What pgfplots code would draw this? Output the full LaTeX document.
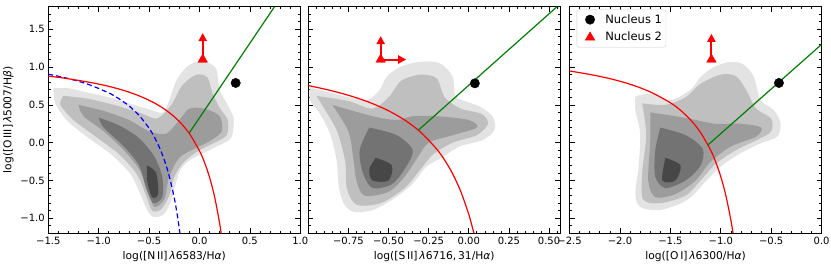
\documentclass[border=0pt]{standalone}
\usepackage{pgfplots}
\pgfplotsset{compat=1.18}
\usepackage{fontspec}
\setmainfont{DejaVu Sans}
\usetikzlibrary{arrows.meta}
\definecolor{mgreen}{RGB}{0,128,0}
\pgfplotsset{
  bpt/.style={
    scale only axis, width=252pt, height=226.8pt,
    ymin=-1.2, ymax=1.8,
    ytick={-1,-0.5,0,0.5,1,1.5},
    minor ytick={-1.2,-1.1,...,1.85},
    tick align=inside,
    major tick length=5pt, minor tick length=2.5pt,
    tick style={black, line width=0.7pt},
    axis line style={line width=0.8pt},
    ticklabel style={font=\fontsize{10}{12}\selectfont},
    label style={font=\fontsize{10.7}{13}\selectfont},
  },
  c1/.style={fill=black!11, draw=none, forget plot, smooth},
  c2/.style={fill=black!25, draw=none, forget plot, smooth},
  c3/.style={fill=black!39, draw=none, forget plot, smooth},
  c4/.style={fill=black!55, draw=none, forget plot, smooth},
  c5/.style={fill=black!72, draw=none, forget plot, smooth},
  kew/.style={red, line width=1.2pt, forget plot, smooth},
  sey/.style={mgreen, line width=1.2pt, forget plot},
  arr/.style={red, line width=2pt, forget plot, -{Triangle[width=8pt,length=8pt]}},
}
\begin{document}
\begin{tikzpicture}
\path[use as bounding box] (0,0) rectangle (831pt,267pt);
% ---------------- Panel 1 : [N II]
\begin{axis}[bpt, at={(48.3pt,33.6pt)}, anchor=south west,
  xmin=-1.5, xmax=1.0,
  xtick={-1.5,-1,-0.5,0,0.5,1},
  xticklabels={−1.5,−1.0,−0.5,0.0,0.5,1.0},
  minor xtick={-1.5,-1.4,...,1.05},
  yticklabels={−1.0,−0.5,0.0,0.5,1.0,1.5},
  xlabel={log([N\,II]\,\textit{λ}6583/H\textit{α})},
  ylabel={log([O\,III]\,\textit{λ}5007/H\textit{β})}]
\addplot[c1] coordinates {(-1.45,0.72) (-1.3,0.72) (-1.1,0.66) (-0.9,0.6) (-0.7,0.52) (-0.5,0.44) (-0.36,0.40) (-0.29,0.6) (-0.227,0.83) (-0.128,1.0) (-0.03,1.07) (0.10,1.05) (0.17,0.96) (0.2,0.70) (0.27,0.52) (0.335,0.345) (0.335,0.17) (0.30,0.04) (0.17,-0.05) (0.04,-0.14) (-0.095,-0.23) (-0.19,-0.36) (-0.243,-0.58) (-0.29,-0.80) (-0.36,-0.955) (-0.46,-0.98) (-0.52,-0.89) (-0.59,-0.67) (-0.69,-0.405) (-0.89,-0.14) (-1.12,0.08) (-1.32,0.30) (-1.43,0.52) (-1.45,0.72)};
\addplot[c2] coordinates {(-1.35,0.62) (-1.1,0.58) (-0.85,0.5) (-0.6,0.4) (-0.42,0.32) (-0.28,0.5) (-0.17,0.76) (-0.03,0.9) (0.08,0.86) (0.13,0.65) (0.2,0.46) (0.28,0.3) (0.27,0.1) (0.15,0.0) (0.0,-0.1) (-0.15,-0.25) (-0.25,-0.45) (-0.3,-0.7) (-0.38,-0.88) (-0.47,-0.9) (-0.53,-0.7) (-0.62,-0.42) (-0.8,-0.15) (-1.05,0.1) (-1.25,0.3) (-1.38,0.5) (-1.35,0.62)};
\addplot[c3] coordinates {(-1.2,0.5) (-0.95,0.42) (-0.7,0.3) (-0.5,0.15) (-0.33,0.12) (-0.2,0.3) (-0.1,0.45) (0.05,0.45) (0.2,0.35) (0.22,0.15) (0.1,0.02) (-0.05,-0.08) (-0.2,-0.2) (-0.3,-0.45) (-0.35,-0.75) (-0.45,-0.85) (-0.5,-0.65) (-0.6,-0.35) (-0.75,-0.1) (-0.95,0.15) (-1.15,0.35) (-1.2,0.5)};
\addplot[c4] coordinates {(-1.0,0.33) (-0.8,0.23) (-0.6,0.06) (-0.45,-0.18) (-0.37,-0.45) (-0.37,-0.72) (-0.46,-0.8) (-0.53,-0.6) (-0.6,-0.3) (-0.75,-0.05) (-0.95,0.2) (-1.0,0.33)};
\addplot[c5] coordinates {(-0.52,-0.3) (-0.43,-0.4) (-0.41,-0.68) (-0.47,-0.72) (-0.52,-0.5) (-0.52,-0.3)};
% Kauffmann 2003
\addplot[blue, line width=1.2pt, forget plot, smooth, dash pattern=on 5pt off 3pt] coordinates {(-1.5,0.906) (-1.3,0.848) (-1.1,0.770) (-0.9,0.658) (-0.8,0.582) (-0.7,0.487) (-0.6,0.362) (-0.5,0.191) (-0.45,0.08) (-0.4,-0.056) (-0.35,-0.225) (-0.3,-0.443) (-0.25,-0.733) (-0.22,-0.959) (-0.194,-1.2)};
% Kewley 2001
\addplot[kew] coordinates {(-1.5,0.880) (-1.4,0.864) (-1.3,0.845) (-1.1,0.801) (-1.0,0.775) (-0.9,0.745) (-0.8,0.710) (-0.7,0.669) (-0.6,0.620) (-0.5,0.561) (-0.4,0.489) (-0.3,0.398) (-0.2,0.280) (-0.1,0.120) (0.0,-0.108) (0.05,-0.262) (0.1,-0.459) (0.15,-0.716) (0.2,-1.069) (0.215,-1.202)};
\addplot[sey] coordinates {(-0.101,0.13) (0.745,1.8)};
\addplot[only marks, mark=*, mark size=4.7pt, black, forget plot] coordinates {(0.359,0.79)};
\addplot[arr] coordinates {(0.032,1.13) (0.032,1.45)};
\addplot[only marks, mark=triangle*, mark size=5.5pt, red, forget plot] coordinates {(0.032,1.10)};
\end{axis}
% ---------------- Panel 2 : [S II]
\begin{axis}[bpt, at={(308.3pt,33.6pt)}, anchor=south west,
  xmin=-1.0, xmax=0.57,
  xtick={-0.75,-0.5,-0.25,0,0.25,0.5},
  xticklabels={−0.75,−0.50,−0.25,0.00,0.25,0.50},
  minor xtick={-1.0,-0.95,...,0.56},
  yticklabels={},
  xlabel={log([S\,II]\,\textit{λ}6716,\,31/H\textit{α})}]
\addplot[c1] coordinates {(-0.99,0.73) (-0.845,0.65) (-0.64,0.565) (-0.555,0.70) (-0.513,0.87) (-0.43,1.0) (-0.306,1.07) (-0.18,1.05) (-0.10,0.87) (-0.08,0.61) (0.066,0.48) (0.149,0.345) (0.16,0.17) (0.087,0.035) (-0.058,-0.05) (-0.16,-0.185) (-0.265,-0.32) (-0.348,-0.54) (-0.45,-0.715) (-0.596,-0.89) (-0.72,-0.913) (-0.78,-0.80) (-0.81,-0.58) (-0.824,-0.23) (-0.865,0.12) (-0.93,0.39) (-0.99,0.565) (-0.99,0.73)};
\addplot[c2] coordinates {(-0.95,0.62) (-0.75,0.55) (-0.6,0.45) (-0.5,0.6) (-0.42,0.82) (-0.3,0.9) (-0.2,0.85) (-0.15,0.6) (-0.05,0.45) (0.08,0.38) (0.12,0.25) (0.05,0.1) (-0.1,0.0) (-0.22,-0.15) (-0.3,-0.35) (-0.4,-0.6) (-0.55,-0.8) (-0.7,-0.82) (-0.76,-0.6) (-0.77,-0.25) (-0.82,0.15) (-0.9,0.45) (-0.95,0.62)};
\addplot[c3] coordinates {(-0.85,0.5) (-0.6,0.35) (-0.45,0.3) (-0.35,0.35) (-0.2,0.35) (0.0,0.3) (0.05,0.2) (-0.1,0.1) (-0.25,0.0) (-0.32,-0.2) (-0.4,-0.45) (-0.5,-0.65) (-0.65,-0.7) (-0.7,-0.5) (-0.72,-0.2) (-0.75,0.15) (-0.85,0.5)};
\addplot[c4] coordinates {(-0.62,0.2) (-0.45,0.1) (-0.35,-0.1) (-0.4,-0.35) (-0.48,-0.55) (-0.6,-0.6) (-0.66,-0.4) (-0.68,-0.1) (-0.62,0.2)};
\addplot[c5] coordinates {(-0.58,-0.2) (-0.48,-0.3) (-0.5,-0.5) (-0.6,-0.5) (-0.62,-0.35) (-0.58,-0.2)};
\addplot[kew] coordinates {(-1.0,0.755) (-0.9,0.710) (-0.8,0.657) (-0.7,0.594) (-0.6,0.517) (-0.5,0.422) (-0.4,0.300) (-0.3,0.139) (-0.2,-0.085) (-0.15,-0.232) (-0.1,-0.414) (-0.05,-0.646) (0.0,-0.95) (0.032,-1.2)};
\addplot[sey] coordinates {(-0.3146,0.165) (0.5503,1.8)};
\addplot[only marks, mark=*, mark size=4.7pt, black, forget plot] coordinates {(0.0375,0.785)};
\addplot[arr] coordinates {(-0.549,1.13) (-0.549,1.41)};
\addplot[arr] coordinates {(-0.53,1.10) (-0.39,1.10)};
\addplot[only marks, mark=triangle*, mark size=5.5pt, red, forget plot] coordinates {(-0.549,1.10)};
\end{axis}
% ---------------- Panel 3 : [O I]
\begin{axis}[bpt, at={(569.6pt,33.6pt)}, anchor=south west,
  xmin=-2.5, xmax=0,
  xtick={-2.5,-2,-1.5,-1,-0.5,0},
  xticklabels={−2.5,−2.0,−1.5,−1.0,−0.5,0.0},
  minor xtick={-2.5,-2.4,...,0.05},
  yticklabels={},
  xlabel={log([O\,I]\,\textit{λ}6300/H\textit{α})},
  legend style={at={(0.028,0.988)}, anchor=north west, draw=black!20, rounded corners=3pt,
    font=\fontsize{11.5}{13}\selectfont, row sep=3.5pt, inner xsep=2pt, inner ysep=3pt},
  legend image code/.code={\path (-11pt,0pt) (13pt,0pt); \draw[#1] plot coordinates {(0pt,0pt)};},
  legend cell align=left]
\addplot[c1] coordinates {(-1.848,0.61) (-1.70,0.65) (-1.50,0.565) (-1.30,0.70) (-1.20,0.87) (-1.07,1.0) (-0.904,1.07) (-0.77,1.03) (-0.672,0.87) (-0.606,0.565) (-0.473,0.43) (-0.407,0.256) (-0.44,0.08) (-0.606,-0.01) (-0.805,-0.14) (-1.003,-0.318) (-1.136,-0.494) (-1.334,-0.758) (-1.60,-0.89) (-1.80,-0.85) (-1.848,-0.67) (-1.815,-0.318) (-1.80,0.124) (-1.848,0.43) (-1.848,0.61)};
\addplot[c2] coordinates {(-1.78,0.52) (-1.55,0.5) (-1.35,0.6) (-1.2,0.78) (-1.0,0.9) (-0.85,0.88) (-0.75,0.7) (-0.65,0.45) (-0.5,0.32) (-0.5,0.15) (-0.62,0.05) (-0.85,-0.1) (-1.05,-0.28) (-1.2,-0.5) (-1.35,-0.7) (-1.6,-0.8) (-1.77,-0.75) (-1.78,-0.4) (-1.74,0.1) (-1.78,0.52)};
\addplot[c3] coordinates {(-1.7,0.4) (-1.45,0.35) (-1.25,0.3) (-1.05,0.25) (-0.8,0.25) (-0.6,0.2) (-0.65,0.08) (-0.9,-0.05) (-1.1,-0.25) (-1.25,-0.5) (-1.45,-0.68) (-1.65,-0.72) (-1.72,-0.5) (-1.7,0.0) (-1.7,0.4)};
\addplot[c4] coordinates {(-1.6,0.2) (-1.35,0.1) (-1.18,-0.08) (-1.2,-0.3) (-1.35,-0.5) (-1.55,-0.6) (-1.65,-0.45) (-1.65,-0.1) (-1.6,0.2)};
\addplot[c5] coordinates {(-1.55,-0.2) (-1.4,-0.3) (-1.45,-0.5) (-1.58,-0.5) (-1.55,-0.2)};
\addplot[kew] coordinates {(-2.5,0.948) (-2.3,0.903) (-2.1,0.847) (-1.9,0.773) (-1.7,0.672) (-1.5,0.528) (-1.4,0.429) (-1.3,0.302) (-1.2,0.133) (-1.1,-0.101) (-1.05,-0.257) (-1.0,-0.450) (-0.95,-0.698) (-0.9,-1.025) (-0.879,-1.196)};
\addplot[sey] coordinates {(-1.1269,-0.0297) (0.0,1.30)};
\addplot[arr] coordinates {(-1.093,1.13) (-1.093,1.44)};
\addplot[only marks, mark=*, mark size=4.7pt, black] coordinates {(-0.423,0.79)};
\addlegendentry{Nucleus 1}
\addplot[only marks, mark=triangle*, mark size=5.5pt, red] coordinates {(-1.093,1.10)};
\addlegendentry{Nucleus 2}
\end{axis}
\end{tikzpicture}
\end{document}
